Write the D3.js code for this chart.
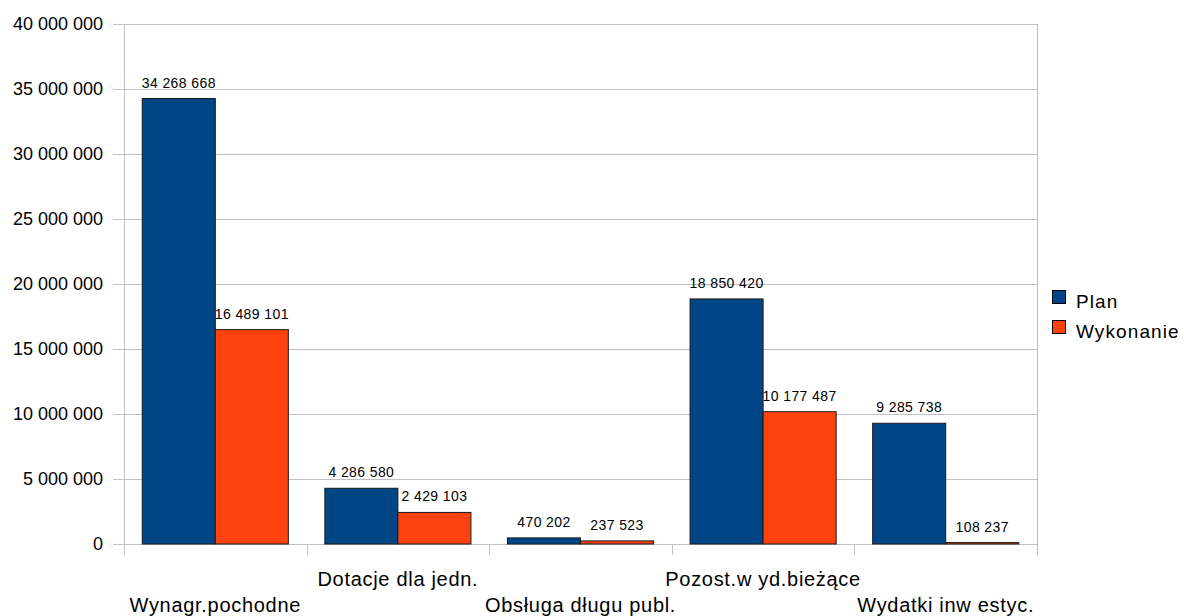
<!DOCTYPE html>
<html>
<head>
<meta charset="utf-8">
<script src="https://cdn.jsdelivr.net/npm/d3@7"></script>
<style>
  body { margin: 0; background: #fff; }
  svg { display: block; font-family: "Liberation Sans", Arial, sans-serif; }
</style>
</head>
<body>
<svg width="1184" height="616"></svg>
<script>
// Data
const categories = ['Wynagr.pochodne', 'Dotacje dla jedn.', 'Obsługa długu publ.', 'Pozost.w yd.bieżące', 'Wydatki inw estyc.'];
const series_names = ['Plan', 'Wykonanie'];
const plan_values = [34268668, 4286580, 470202, 18850420, 9285738];
const wykonanie_values = [16489101, 2429103, 237523, 10177487, 108237];
const y_ticks = [0, 5000000, 10000000, 15000000, 20000000, 25000000, 30000000, 35000000, 40000000];

const colors = ['#004586', '#ff420e'];
const grid_color = '#c0c0c0';

const svg = d3.select('svg');
const margin = { top: 24, left: 124, right: 147, bottom: 72 };
const width = +svg.attr('width');
const height = +svg.attr('height');
const inner_width = width - margin.left - margin.right;
const inner_height = height - margin.top - margin.bottom;

const fmt = v => d3.format(',')(v).replace(/,/g, ' ');

const rows = categories.map((c, i) => ({ category: c, values: [plan_values[i], wykonanie_values[i]] }));

const x = d3.scaleBand()
    .domain(categories)
    .range([0, inner_width])
    .paddingInner(0.2)
    .paddingOuter(0.1);
// band per category including padding
const xOuter = d3.scaleBand().domain(categories).range([0, inner_width]);

const xSeries = d3.scaleBand()
    .domain(series_names)
    .range([0, x.bandwidth()]);

const y = d3.scaleLinear()
    .domain([0, 40000000])
    .range([inner_height, 0]);

const g = svg.append('g')
    .attr('transform', `translate(${margin.left}, ${margin.top})`);

// Gridlines
g.append('g')
    .selectAll('line')
    .data(y_ticks)
    .enter().append('line')
    .attr('x1', -11)
    .attr('x2', inner_width)
    .attr('y1', d => Math.round(y(d)) + 0.5)
    .attr('y2', d => Math.round(y(d)) + 0.5)
    .attr('stroke', grid_color)
    .attr('stroke-width', 1);

// Y axis line
g.append('line')
    .attr('x1', 0.5).attr('x2', 0.5)
    .attr('y1', 0).attr('y2', inner_height + 11)
    .attr('stroke', grid_color);

// Right border
g.append('line')
    .attr('x1', inner_width + 0.5).attr('x2', inner_width + 0.5)
    .attr('y1', 0).attr('y2', inner_height + 11)
    .attr('stroke', grid_color);

// X tick marks between categories
g.append('g')
    .selectAll('line')
    .data(categories.slice(1))
    .enter().append('line')
    .attr('x1', d => Math.round(xOuter(d)) + 0.5)
    .attr('x2', d => Math.round(xOuter(d)) + 0.5)
    .attr('y1', inner_height)
    .attr('y2', inner_height + 11)
    .attr('stroke', grid_color);

// Y tick labels
g.append('g')
    .selectAll('text')
    .data(y_ticks)
    .enter().append('text')
    .attr('x', -21)
    .attr('y', d => y(d))
    .attr('dy', '0.35em')
    .attr('text-anchor', 'end')
    .attr('font-size', '18px')
    .attr('fill', '#000')
    .text(d => fmt(d));

// Bars
const groups = g.selectAll('.cat')
    .data(rows)
    .enter().append('g')
    .attr('class', 'cat')
    .attr('transform', d => `translate(${x(d.category)}, 0)`);

groups.selectAll('rect')
    .data(d => d.values.map((v, i) => ({ key: series_names[i], value: v, i })))
    .enter().append('rect')
    .attr('x', d => xSeries(d.key))
    .attr('y', d => y(d.value))
    .attr('width', xSeries.bandwidth())
    .attr('height', d => inner_height - y(d.value))
    .attr('fill', d => colors[d.i])
    .attr('stroke', '#1a1a1a')
    .attr('stroke-width', 1);

groups.selectAll('.val')
    .data(d => d.values.map((v, i) => ({ key: series_names[i], value: v })))
    .enter().append('text')
    .attr('class', 'val')
    .attr('x', d => xSeries(d.key) + xSeries.bandwidth() / 2)
    .attr('y', d => y(d.value) - 11)
    .attr('text-anchor', 'middle')
    .attr('font-size', '14px')
    .attr('letter-spacing', '0.4px')
    .attr('fill', '#000')
    .text(d => fmt(d.value));

// Category labels (staggered)
g.append('g')
    .selectAll('text')
    .data(categories)
    .enter().append('text')
    .attr('x', d => xOuter(d) + xOuter.bandwidth() / 2)
    .attr('y', (d, i) => i % 2 === 0 ? inner_height + 68 : inner_height + 42)
    .attr('text-anchor', 'middle')
    .attr('font-size', '20px')
    .attr('letter-spacing', '0.7px')
    .attr('fill', '#000')
    .text(d => d);

// Legend
const legend = svg.append('g')
    .attr('transform', `translate(1052, 290)`);
const items = legend.selectAll('g')
    .data(series_names)
    .enter().append('g')
    .attr('transform', (d, i) => `translate(0, ${i * 30})`);
items.append('rect')
    .attr('x', 0.5).attr('y', 0.5)
    .attr('width', 13).attr('height', 13)
    .attr('fill', (d, i) => colors[i])
    .attr('stroke', '#000');
items.append('text')
    .attr('x', 24)
    .attr('y', 18)
    .attr('font-size', '19px')
    .attr('letter-spacing', '1.1px')
    .attr('fill', '#000')
    .text(d => d);
</script>
</body>
</html>
